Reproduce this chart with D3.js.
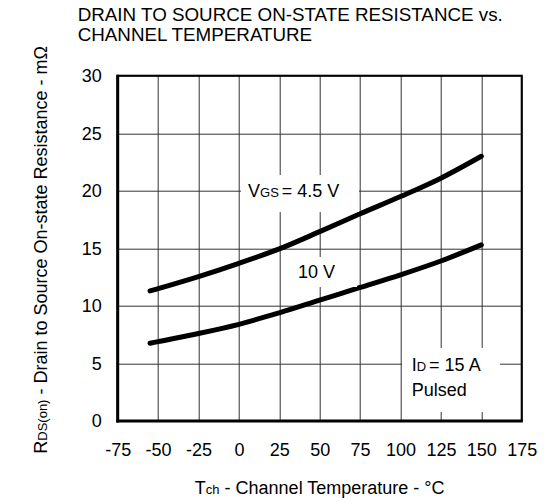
<!DOCTYPE html>
<html>
<head>
<meta charset="utf-8">
<script src="https://cdn.jsdelivr.net/npm/d3@7"></script>
<style>
  body { margin: 0; background: #fff; }
  svg { font-family: "Liberation Sans", Arial, sans-serif; }
</style>
</head>
<body>
<div id="chart"></div>
<script>
// values
const temps = [-55, -50, -25, 0, 25, 50, 75, 100, 125, 150]
const rdsVgs45 = [11.3, 11.5, 12.55, 13.7, 14.95, 16.45, 18.0, 19.5, 21.1, 23.0]
const rdsVgs10 = [6.75, 6.9, 7.6, 8.4, 9.4, 10.5, 11.6, 12.7, 13.9, 15.3]
const xTicks = [-75, -50, -25, 0, 25, 50, 75, 100, 125, 150, 175]
const yTicks = [0, 5, 10, 15, 20, 25, 30]

const margin = { top: 75.7, right: 36.3, bottom: 83, left: 117.7 }
const width = 558 - margin.left - margin.right,
    height = 504 - margin.top - margin.bottom;

const svg = d3.select("#chart")
    .append("svg")
    .attr("width", 558)
    .attr("height", 504)

// title
const title = svg.append("text")
    .attr("font-size", 18.8)
    .attr("fill", "#000")
title.append("tspan").attr("x", 77.7).attr("y", 20.7).text("DRAIN TO SOURCE ON-STATE RESISTANCE vs.")
title.append("tspan").attr("x", 77.7).attr("y", 40.7).text("CHANNEL TEMPERATURE")

const g = svg.append("g")
    .attr("transform", "translate(" + margin.left + "," + margin.top + ")")

const x = d3.scaleLinear().domain([-75, 175]).range([0, width])
const y = d3.scaleLinear().domain([0, 30]).range([height, 0])

// grid
g.append("g").selectAll("line")
    .data(xTicks)
    .join("line")
    .attr("x1", d => Math.round(x(d)) + 0.5).attr("x2", d => Math.round(x(d)) + 0.5)
    .attr("y1", 0).attr("y2", height)
    .attr("stroke", "#333").attr("stroke-width", 1)

g.append("g").selectAll("line")
    .data(yTicks)
    .join("line")
    .attr("y1", d => Math.round(y(d)) + 0.5).attr("y2", d => Math.round(y(d)) + 0.5)
    .attr("x1", 0).attr("x2", width)
    .attr("stroke", "#333").attr("stroke-width", 1)

// white boxes behind the labels
const boxes = [
    { x0: 241, y0: 175, x1: 359, y1: 212 },
    { x0: 283, y0: 257, x1: 357, y1: 287 },
    { x0: 402, y0: 348, x1: 500, y1: 412 }
]
svg.append("g").selectAll("rect")
    .data(boxes)
    .join("rect")
    .attr("x", d => d.x0).attr("y", d => d.y0)
    .attr("width", d => d.x1 - d.x0).attr("height", d => d.y1 - d.y0)
    .attr("fill", "#fff")

// frame
g.append("rect")
    .attr("width", width).attr("height", height)
    .attr("fill", "none").attr("stroke", "#000").attr("stroke-width", 2)
g.append("line").attr("x1", 0).attr("x2", 0).attr("y1", -1).attr("y2", height + 1.5)
    .attr("stroke", "#000").attr("stroke-width", 3)
g.append("line").attr("x1", -1.5).attr("x2", width + 1).attr("y1", height).attr("y2", height)
    .attr("stroke", "#000").attr("stroke-width", 3)

// axes (labels only), plain hyphen for negatives like the datasheet
const xAxis = d3.axisBottom(x).tickValues(xTicks).tickSize(0).tickPadding(22)
    .tickFormat(d => String(d))
g.append("g")
    .attr("transform", "translate(0," + height + ")")
    .call(xAxis)
    .call(a => a.select(".domain").remove())
    .selectAll("text").attr("font-size", 18).attr("font-family", null).attr("fill", "#000")

const yAxis = d3.axisLeft(y).tickValues(yTicks).tickSize(0).tickPadding(16)
    .tickFormat(d => String(d))
g.append("g")
    .call(yAxis)
    .call(a => a.select(".domain").remove())
    .selectAll("text").attr("font-size", 18).attr("font-family", null).attr("fill", "#000")

// curves
const line = d3.line()
    .x(d => x(d[0]))
    .y(d => y(d[1]))
    .curve(d3.curveCatmullRom.alpha(0.5))

const series = [
    d3.zip(temps, rdsVgs45),
    d3.zip(temps, rdsVgs10)
]
g.selectAll(".curve")
    .data(series)
    .join("path")
    .attr("class", "curve")
    .attr("d", line)
    .attr("fill", "none")
    .attr("stroke", "#000")
    .attr("stroke-width", 5)
    .attr("stroke-linecap", "round")

// curve labels
const vgs = svg.append("text").attr("x", 248).attr("y", 196.7).attr("font-size", 18)
vgs.append("tspan").text("V")
vgs.append("tspan").attr("font-size", 13).text("GS")
vgs.append("tspan").attr("dx", 3).text("= 4.5 V")

svg.append("text").attr("x", 298).attr("y", 277.5).attr("font-size", 18).text("10 V")

const idl = svg.append("text").attr("x", 411.7).attr("y", 370.7).attr("font-size", 18)
idl.append("tspan").text("I")
idl.append("tspan").attr("font-size", 13).text("D")
idl.append("tspan").attr("dx", 3).text("= 15 A")
svg.append("text").attr("x", 411.7).attr("y", 396).attr("font-size", 18).text("Pulsed")

// axis titles
const xt = svg.append("text")
    .attr("x", margin.left + width / 2).attr("y", 494.3)
    .attr("text-anchor", "middle").attr("font-size", 18)
xt.append("tspan").text("T")
xt.append("tspan").attr("font-size", 13).text("ch")
xt.append("tspan").text(" - Channel Temperature - °C")

const yt = svg.append("text")
    .attr("transform", "translate(46.5," + (margin.top + height / 2 + 1.5) + ") rotate(-90)")
    .attr("text-anchor", "middle").attr("font-size", 18)
yt.append("tspan").text("R")
yt.append("tspan").attr("font-size", 13).text("DS(on)")
yt.append("tspan").text(" - Drain to Source On-state Resistance - mΩ")
</script>
</body>
</html>
